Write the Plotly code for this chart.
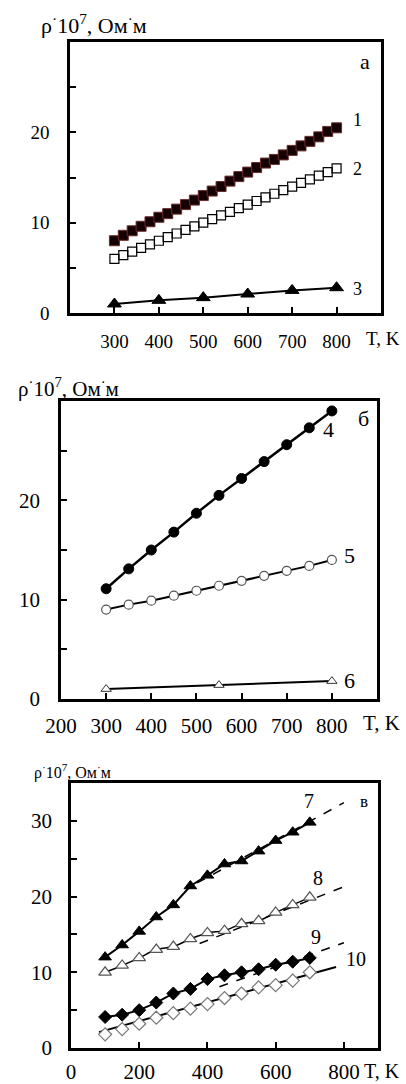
import plotly.graph_objects as go

# ---------------- Panel а ----------------
a_T_dense = [300, 320, 340, 360, 380, 400, 420, 440, 460, 480, 500, 520, 540,
             560, 580, 600, 620, 640, 660, 680, 700, 720, 740, 760, 780, 800]
s1 = [8.0, 8.6, 9.1, 9.6, 10.1, 10.6, 11.0, 11.5, 12.0, 12.5, 13.0, 13.5, 14.0,
      14.6, 15.1, 15.6, 16.1, 16.6, 17.0, 17.5, 18.0, 18.5, 19.0, 19.5, 20.1, 20.5]
s2 = [6.0, 6.4, 6.8, 7.2, 7.6, 8.0, 8.4, 8.8, 9.2, 9.6, 10.0, 10.4, 10.8,
      11.2, 11.6, 12.0, 12.4, 12.8, 13.2, 13.6, 14.0, 14.4, 14.8, 15.2, 15.6, 16.0]
a_T3 = [300, 400, 500, 600, 700, 800]
s3 = [1.0, 1.4, 1.7, 2.1, 2.5, 2.8]

# ---------------- Panel б ----------------
b_T = [300, 350, 400, 450, 500, 550, 600, 650, 700, 750, 800]
s4 = [11.1, 13.1, 15.0, 16.8, 18.7, 20.5, 22.2, 23.9, 25.6, 27.3, 29.0]
s5 = [9.0, 9.5, 9.9, 10.4, 10.9, 11.4, 11.9, 12.4, 12.9, 13.4, 14.0]
b_T6 = [300, 550, 800]
s6 = [1.0, 1.4, 1.8]

# ---------------- Panel в ----------------
c_T = [100, 150, 200, 250, 300, 350, 400, 450, 500, 550, 600, 650, 700]
s7 = [12.0, 13.6, 15.4, 17.3, 18.9, 21.4, 22.8, 24.3, 24.7, 26.0, 27.4, 28.5, 29.8]
s8 = [10.0, 10.9, 11.9, 13.0, 13.4, 14.4, 15.2, 15.5, 16.4, 16.8, 17.9, 18.9, 19.9]
s9 = [4.1, 4.4, 5.0, 6.0, 7.2, 7.8, 9.1, 9.6, 10.0, 10.4, 11.0, 11.4, 11.9]
s10 = [1.8, 2.5, 3.2, 4.0, 4.6, 5.2, 5.8, 6.6, 7.2, 8.0, 8.3, 8.9, 10.0]
fit7_T, fit7_v = [370, 800], [21.8, 32.4]
fit8_T, fit8_v = [377, 800], [13.8, 21.3]
fit9_T, fit9_v = [435, 800], [8.1, 13.9]
fit10_T, fit10_v = [82, 777], [2.1, 10.7]

# tick labels
a_xticks = [300, 400, 500, 600, 700, 800]
b_xticks = [200, 300, 400, 500, 600, 700, 800]
c_xticks = [0, 200, 400, 600, 800]
ab_yticks = [0, 10, 20]
c_yticks = [0, 10, 20, 30]

ylabel = "ρ<sup>·</sup>10<sup>7</sup>, Ом<sup>·</sup>м"
FONT = "Liberation Serif"
W, H = 406, 1084

fig = go.Figure()

def add(x, y, xa, ya, mode, symbol=None, size=9, fill="black", edge="black",
        ew=1, lw=2, dash="solid", shape="linear"):
    kw = dict(x=x, y=y, xaxis=xa, yaxis=ya, mode=mode, showlegend=False,
              hoverinfo="skip")
    if "markers" in mode:
        kw["marker"] = dict(symbol=symbol, size=size, color=fill,
                            line=dict(color=edge, width=ew))
    if "lines" in mode:
        kw["line"] = dict(color="black", width=lw, dash=dash, shape=shape)
    fig.add_trace(go.Scatter(**kw))

# Panel а
add(a_T_dense, s1, "x", "y", "markers", "square", 10, "#140000", "#6b2a2a", 1)
add(a_T_dense, s2, "x", "y", "markers", "square-open", 9, "black", "black", 1.2)
add(a_T3, s3, "x", "y", "lines+markers", "triangle-up", 12, "black", "black", 1, 2)

# Panel б
add(b_T, s4, "x2", "y2", "lines+markers", "circle", 10, "black", "black", 1, 2.5)
add(b_T, s5, "x2", "y2", "lines+markers", "circle", 9, "white", "#555555", 1.2, 2)
add(b_T6, s6, "x2", "y2", "lines+markers", "triangle-up", 9, "white", "#333333", 1, 2)

# Panel в
add(fit7_T, fit7_v, "x3", "y3", "lines", lw=1.5, dash="dash")
add(fit8_T, fit8_v, "x3", "y3", "lines", lw=1.5, dash="dash")
add(fit9_T, fit9_v, "x3", "y3", "lines", lw=1.5, dash="dash")
add(fit10_T, fit10_v, "x3", "y3", "lines", lw=2)
add(c_T, s7, "x3", "y3", "lines+markers", "triangle-up", 11, "black", "black", 1, 2)
add(c_T, s8, "x3", "y3", "lines+markers", "triangle-up", 11, "white", "#555555", 1.2, 1.5, shape="spline")
add(c_T, s9, "x3", "y3", "lines+markers", "diamond", 10, "black", "black", 1, 2)
add(c_T, s10, "x3", "y3", "markers", "diamond", 10, "white", "#777777", 1.2)

def common(fs, stand):
    return dict(showline=True, mirror=True, linecolor="black", linewidth=2.5,
                ticks="inside", ticklen=6, tickwidth=2, tickcolor="black",
                showgrid=False, zeroline=False, fixedrange=True, automargin=False,
                tickfont=dict(family=FONT, size=fs, color="black"),
                ticklabelstandoff=stand)

def xax(dom, rng, ticks, fs, stand, anchor):
    return dict(domain=dom, range=rng, tickvals=ticks,
                ticktext=[str(t) for t in ticks], anchor=anchor, **common(fs, stand))

def yax(dom, rng, ticks, fs, stand, anchor):
    return dict(domain=dom, range=rng, tickvals=ticks,
                ticktext=[str(t) for t in ticks], anchor=anchor,
                minor=dict(dtick=5, tick0=0, ticks="inside", ticklen=6,
                           tickwidth=2, tickcolor="black", showgrid=False),
                **common(fs, stand))

def px(x):
    return x / W

def py(y):
    return 1 - y / H

fig.update_layout(
    template="none",
    width=W, height=H, margin=dict(l=0, r=0, t=0, b=0, autoexpand=False),
    paper_bgcolor="white", plot_bgcolor="white",
    xaxis=xax([px(70), px(381)], [200, 900], a_xticks, 19, 9, "y"),
    yaxis=yax([py(313), py(42)], [0, 30], ab_yticks, 19, 14, "x"),
    xaxis2=xax([px(61), px(377)], [200, 900], b_xticks, 21, 6, "y2"),
    yaxis2=yax([py(699), py(401)], [0, 30], ab_yticks, 21, 14, "x2"),
    xaxis3=xax([px(71), px(378)], [0, 900], c_xticks, 21, 3, "y3"),
    yaxis3=yax([py(1048), py(783)], [0, 35], c_yticks, 21, 12, "x3"),
)

def note(text, x, y, xr, yr, size=19):
    fig.add_annotation(text=text, x=x, y=y, xref=xr, yref=yr, showarrow=False,
                       xanchor="center", yanchor="middle",
                       font=dict(family=FONT, size=size, color="black"))

# curve labels
note("1", 847, 21.4, "x", "y", 18)
note("2", 847, 15.9, "x", "y", 18)
note("3", 847, 2.7, "x", "y", 18)
note("а", 865, 27.8, "x", "y", 22)
note("б", 869, 28.2, "x2", "y2", 22)
note("4", 793, 27.1, "x2", "y2", 22)
note("5", 838, 14.4, "x2", "y2", 22)
note("6", 838, 1.9, "x2", "y2", 22)
note("7", 698, 32.6, "x3", "y3", 20)
note("8", 724, 22.5, "x3", "y3", 20)
note("9", 718, 14.6, "x3", "y3", 20)
note("10", 835, 11.7, "x3", "y3", 20)
note("в", 858, 32.6, "x3", "y3", 17)

# axis titles
note(ylabel, px(94), py(24), "paper", "paper", 22)
note("T, K", px(383), py(338), "paper", "paper", 19)
note(ylabel, px(68), py(387), "paper", "paper", 21)
note("T, K", px(381), py(723), "paper", "paper", 21)
note(ylabel, px(72), py(771), "paper", "paper", 16)
note("T, K", px(382), py(1071), "paper", "paper", 20)

fig.write_html("out.html", config={"displayModeBar": False},
               post_script="document.body.style.margin='0';")
